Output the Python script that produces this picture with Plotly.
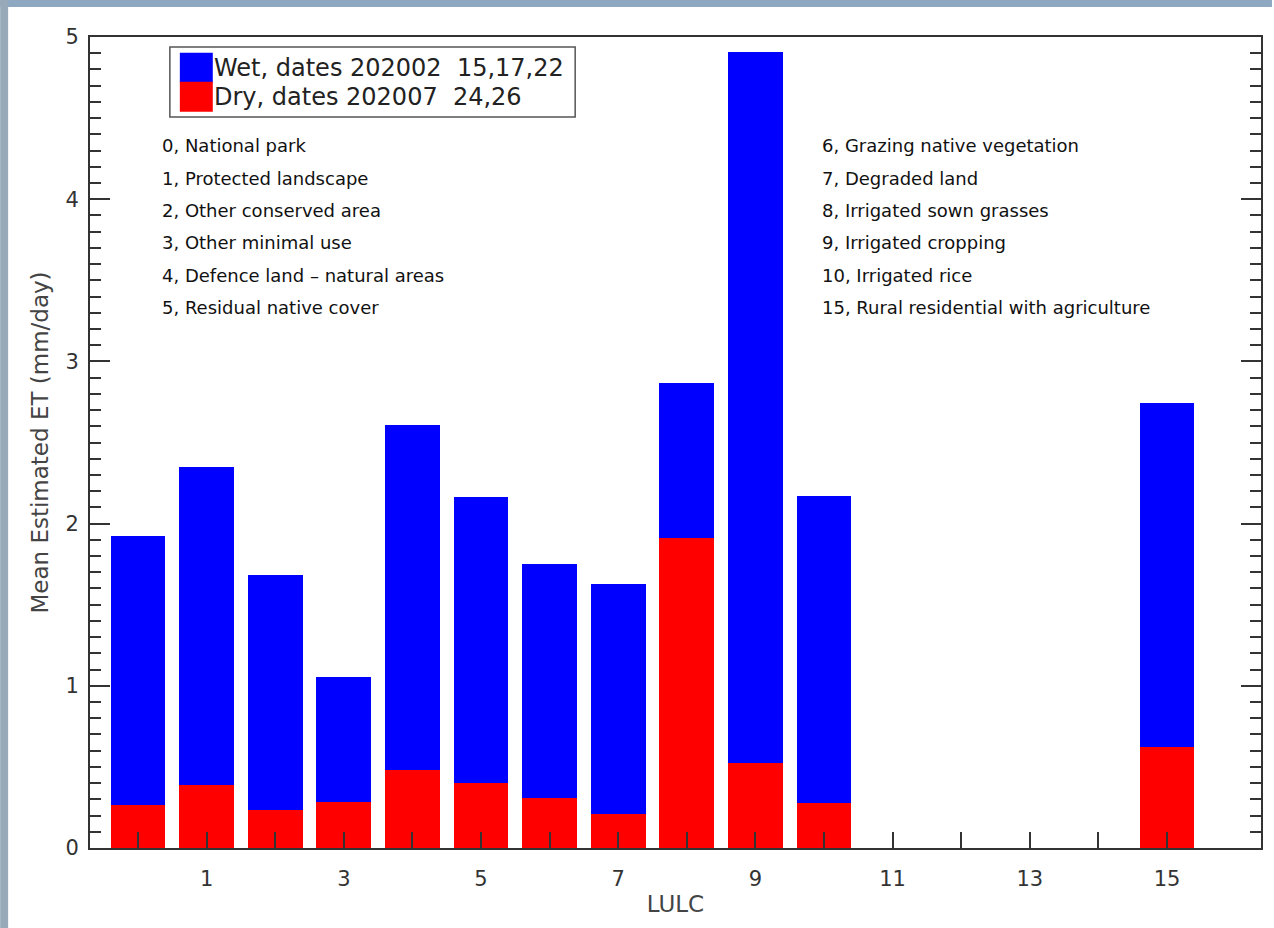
import plotly.graph_objects as go

# ---- data ----
lulc_codes = [0, 1, 2, 3, 4, 5, 6, 7, 8, 9, 10, 15]
wet_et = [1.924, 2.347, 1.682, 1.057, 2.608, 2.163, 1.752, 1.627, 2.869, 4.908, 2.169, 2.745]
dry_et = [0.267, 0.386, 0.236, 0.283, 0.482, 0.402, 0.308, 0.211, 1.914, 0.526, 0.275, 0.622]
x_tick_vals = [1, 3, 5, 7, 9, 11, 13, 15]
x_tick_text = ["1", "3", "5", "7", "9", "11", "13", "15"]
x_minor_ticks = list(range(0, 16))
legend_labels = ["Wet, dates 202002  15,17,22", "Dry, dates 202007  24,26"]
legend_colors = ["#0000ff", "#ff0000"]
left_classes = ["0, National park", "1, Protected landscape", "2, Other conserved area",
                "3, Other minimal use", "4, Defence land \u2013 natural areas", "5, Residual native cover"]
right_classes = ["6, Grazing native vegetation", "7, Degraded land", "8, Irrigated sown grasses",
                 "9, Irrigated cropping", "10, Irrigated rice", "15, Rural residential with agriculture"]

W, H = 1274, 928
L, R, T, B = 90, 1263, 37, 848
FONT = "DejaVu Sans"

fig = go.Figure()
fig.add_trace(go.Bar(x=lulc_codes, y=wet_et, width=0.8, marker=dict(color=legend_colors[0], line=dict(width=0)),
                     name=legend_labels[0]))
fig.add_trace(go.Bar(x=lulc_codes, y=dry_et, width=0.8, marker=dict(color=legend_colors[1], line=dict(width=0)),
                     name=legend_labels[1]))

def px_x(p):
    return (p - L) / (R - L)

def px_y(p):
    return (B - p) / (B - T)

shapes = []
annotations = []
# background strips (photo edge in the reference)
shapes.append(dict(type="rect", xref="paper", yref="paper", x0=px_x(0), x1=px_x(W), y0=px_y(0), y1=px_y(7),
                   fillcolor="#8fa8c2", line=dict(width=0), layer="below"))
shapes.append(dict(type="rect", xref="paper", yref="paper", x0=px_x(0), x1=px_x(8), y0=px_y(0), y1=px_y(H),
                   fillcolor="#98a9b9", line=dict(width=0), layer="below"))

# legend box
shapes.append(dict(type="rect", xref="paper", yref="paper", x0=px_x(170), x1=px_x(576), y0=px_y(47), y1=px_y(117),
                   fillcolor="white", line=dict(color="#555", width=1.5)))
patch_tops = [52.7, 81.7]
for i, (lab, col) in enumerate(zip(legend_labels, legend_colors)):
    y0 = patch_tops[i]
    shapes.append(dict(type="rect", xref="paper", yref="paper", x0=px_x(180), x1=px_x(213),
                       y0=px_y(y0), y1=px_y(y0 + 30), fillcolor=col, line=dict(width=0)))
    annotations.append(dict(xref="paper", yref="paper", x=px_x(212), y=px_y(y0 + 15), text=lab,
                            showarrow=False, xanchor="left", yanchor="middle",
                            font=dict(family=FONT, size=24, color="#222")))

for i, lab in enumerate(left_classes):
    annotations.append(dict(xref="paper", yref="paper", x=px_x(160), y=px_y(146 + 32.3 * i), text=lab,
                            showarrow=False, xanchor="left", yanchor="middle",
                            font=dict(family=FONT, size=18, color="#111")))
for i, lab in enumerate(right_classes):
    annotations.append(dict(xref="paper", yref="paper", x=px_x(821), y=px_y(146 + 32.3 * i), text=lab,
                            showarrow=False, xanchor="left", yanchor="middle",
                            font=dict(family=FONT, size=18, color="#111")))

axis_col = "#333"
fig.update_layout(
    width=W, height=H,
    margin=dict(l=L, r=W - R, t=T, b=H - B, pad=0),
    paper_bgcolor="white", plot_bgcolor="white",
    barmode="overlay", bargap=0,
    showlegend=False,
    shapes=shapes, annotations=annotations,
    font=dict(family=FONT, color="#333"),
    xaxis=dict(range=[-0.70, 16.37], tickmode="array", tickvals=x_tick_vals, ticktext=x_tick_text,
               ticks="inside", ticklen=16, tickwidth=1.8, tickcolor=axis_col,
               minor=dict(tickmode="array", tickvals=x_minor_ticks, ticks="inside", ticklen=16,
                          tickwidth=1.8, tickcolor=axis_col),
               showline=True, linecolor=axis_col, linewidth=2, mirror=True,
               showgrid=False, zeroline=False, ticklabelstandoff=11,
               tickfont=dict(family=FONT, size=21, color="#333"),
               title=dict(text="LULC", font=dict(family=FONT, size=23, color="#444"), standoff=6)),
    yaxis=dict(range=[0, 5], tickmode="linear", tick0=0, dtick=1,
               ticks="inside", ticklen=20, tickwidth=1.8, tickcolor=axis_col,
               minor=dict(dtick=0.1, tick0=0, ticks="inside", ticklen=11, tickwidth=1.8, tickcolor=axis_col),
               showline=True, linecolor=axis_col, linewidth=2, mirror="ticks",
               showgrid=False, zeroline=False, ticklabelstandoff=5,
               tickfont=dict(family=FONT, size=21, color="#333"),
               title=dict(text="Mean Estimated ET (mm/day)", font=dict(family=FONT, size=23, color="#444"),
                          standoff=10)),
)

fig.write_html("out.html", config={"displayModeBar": False},
               post_script="document.body.style.margin='0';")
